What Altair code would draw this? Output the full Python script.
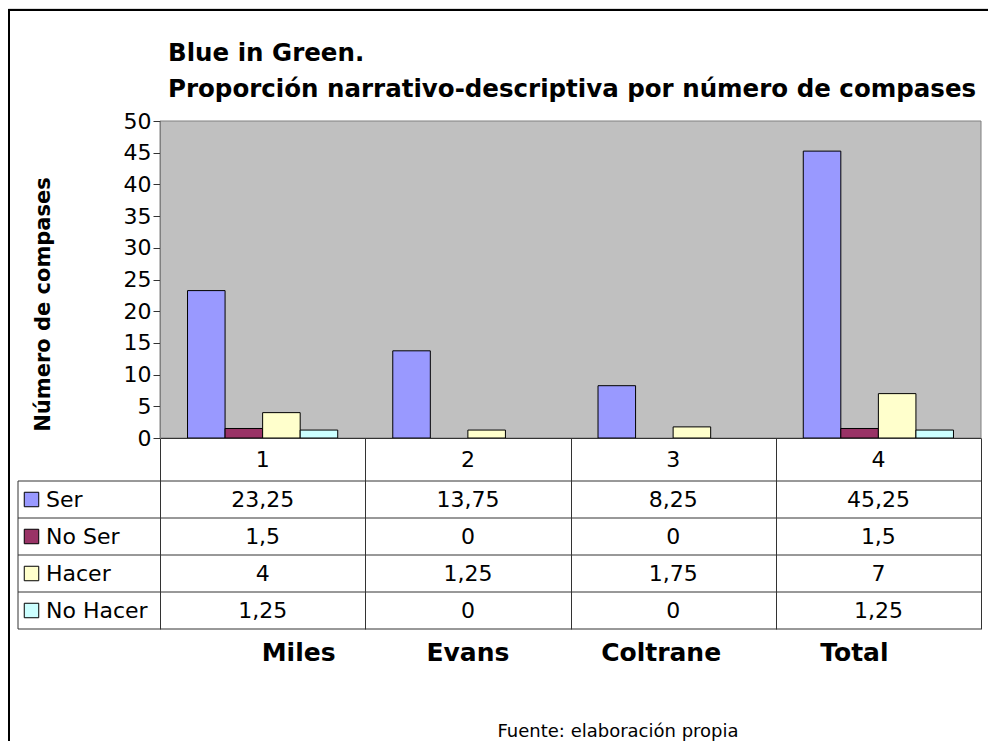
import altair as alt
import pandas as pd

# ---------------- data ----------------
columns = ["1", "2", "3", "4"]
performers = ["Miles", "Evans", "Coltrane", "Total"]
series_names = ["Ser", "No Ser", "Hacer", "No Hacer"]
ser = [23.25, 13.75, 8.25, 45.25]
no_ser = [1.5, 0, 0, 1.5]
hacer = [4, 1.25, 1.75, 7]
no_hacer = [1.25, 0, 0, 1.25]
colors = ["#9999FF", "#993366", "#FFFFCC", "#CCFFFF"]
title_lines = ["Blue in Green.", "Proporción narrativo-descriptiva por número de compases"]
y_title = "Número de compases"
source_text = "Fuente: elaboración propia"


def fmt(v):
    return f"{v:g}".replace(".", ",")


rows = []
for s, vals in zip(series_names, [ser, no_ser, hacer, no_hacer]):
    for c, p, v in zip(columns, performers, vals):
        rows.append({"col": c, "performer": p, "series": s, "value": v, "label": fmt(v)})
df = pd.DataFrame(rows)
ser_df = pd.DataFrame({"series": series_names})
one = pd.DataFrame({"a": [0]})

# ---------------- layout ----------------
W, H = 980, 733
PX0, PX1 = 152, 973
PY0, PY1 = 113, 430
ROW0, TB = 473, 621
LEFT = 10
FONT = "DejaVu Sans"
LINE = "#333333"

x_scale = alt.Scale(domain=columns, range=[PX0, PX1], paddingInner=0, paddingOuter=0)
fill_scale = alt.Scale(domain=series_names, range=colors)
row_scale = alt.Scale(domain=series_names, range=[ROW0, TB], paddingInner=0, paddingOuter=0)


def X():
    return alt.X("col:N", scale=x_scale, sort=columns)


def Yrow(**kw):
    return alt.Y("series:N", scale=row_scale, sort=series_names, axis=None, **kw)


bg = alt.Chart(one).mark_rect(fill="#C0C0C0", stroke="#808080", strokeWidth=1).encode(
    x=alt.value(PX0), x2=alt.value(PX1), y=alt.value(PY0), y2=alt.value(PY1)
)

bars = alt.Chart(df).transform_filter("datum.value > 0").mark_bar(
    stroke="black", strokeWidth=1
).encode(
    x=alt.X(
        "col:N", scale=x_scale, sort=columns,
        axis=alt.Axis(
            title=None, labels=False, domain=True, domainColor=LINE, ticks=True,
            tickBand="extent", tickSize=TB - PY1, tickColor=LINE, offset=PY1 - H,
            zindex=1, grid=False,
        ),
    ),
    xOffset=alt.XOffset(
        "series:N", sort=series_names,
        scale=alt.Scale(domain=series_names, paddingOuter=0.733, paddingInner=0),
    ),
    y=alt.Y(
        "value:Q",
        scale=alt.Scale(domain=[0, 50], range=[PY1, PY0], nice=False),
        axis=alt.Axis(
            values=list(range(0, 51, 5)), offset=-PX0, grid=False,
            domainColor="#808080", tickColor=LINE, tickSize=7,
            labelFontSize=22, labelPadding=2, labelColor="black", labelFont=FONT,
            title=y_title, titleFontSize=21, titleFontWeight="bold", titleFont=FONT,
            titleX=35 - PX0, titleY=296, titleAngle=270, titleAlign="center",
            titleBaseline="middle", titleColor="black", zindex=1,
        ),
    ),
    fill=alt.Fill("series:N", scale=fill_scale, legend=None),
)

header = alt.Chart(df).transform_filter("datum.series == 'Ser'").mark_text(
    font=FONT, fontSize=22, baseline="middle", color="black"
).encode(x=X(), y=alt.value(452), text="col:N")

values = alt.Chart(df).mark_text(
    font=FONT, fontSize=22, baseline="middle", color="black"
).encode(x=X(), y=Yrow(), text="label:N")

hlines = alt.Chart(ser_df).mark_rule(color=LINE, strokeWidth=1).encode(
    y=Yrow(bandPosition=0), x=alt.value(LEFT), x2=alt.value(PX1)
)
bottom_line = alt.Chart(ser_df).transform_filter("datum.series == 'No Hacer'").mark_rule(
    color=LINE, strokeWidth=1
).encode(y=Yrow(bandPosition=1), x=alt.value(LEFT), x2=alt.value(PX1))
left_line = alt.Chart(one).mark_rule(color=LINE, strokeWidth=1).encode(
    x=alt.value(LEFT), y=alt.value(ROW0), y2=alt.value(TB)
)

squares = alt.Chart(ser_df).mark_point(
    shape="square", filled=True, size=210, stroke="black", strokeWidth=1, opacity=1
).encode(x=alt.value(23.5), y=Yrow(), fill=alt.Fill("series:N", scale=fill_scale, legend=None))

leg_labels = alt.Chart(ser_df).mark_text(
    font=FONT, fontSize=22, align="left", baseline="middle", color="black"
).encode(x=alt.value(38), y=Yrow(), text="series:N")

label_dx = [36, 0, -12, -24]
perf_layers = []
for c, dx in zip(columns, label_dx):
    perf_layers.append(
        alt.Chart(df).transform_filter(f"datum.series == 'Ser' && datum.col == '{c}'").mark_text(
            font=FONT, fontSize=25, fontWeight="bold", baseline="alphabetic", dx=dx, color="black"
        ).encode(x=X(), y=alt.value(653), text="performer:N")
    )

titles = [
    alt.Chart(pd.DataFrame({"t": [title_lines[0]]})).mark_text(
        font=FONT, fontSize=24.5, fontWeight="bold", align="left", baseline="alphabetic", color="black"
    ).encode(x=alt.value(160), y=alt.value(53), text="t:N"),
    alt.Chart(pd.DataFrame({"t": [title_lines[1]]})).mark_text(
        font=FONT, fontSize=24.5, fontWeight="bold", align="left", baseline="alphabetic", color="black"
    ).encode(x=alt.value(160), y=alt.value(89), text="t:N"),
]

source = alt.Chart(pd.DataFrame({"t": [source_text]})).mark_text(
    font=FONT, fontSize=18, align="center", baseline="alphabetic", color="black"
).encode(x=alt.value(610), y=alt.value(729), text="t:N")

border_top = alt.Chart(one).mark_rule(color="black", strokeWidth=2).encode(
    x=alt.value(0), x2=alt.value(W), y=alt.value(2)
)
border_left = alt.Chart(one).mark_rule(color="black", strokeWidth=2).encode(
    x=alt.value(1), y=alt.value(2), y2=alt.value(H)
)

chart = alt.layer(
    bg, bars, header, values, hlines, bottom_line, left_line, squares, leg_labels,
    *perf_layers, *titles, source, border_top, border_left,
).resolve_scale(y="independent").properties(
    width=W, height=H, autosize=alt.AutoSizeParams(type="none"), padding=0
).configure_view(stroke=None).configure(font=FONT)

chart.save("out.html", embed_options={"renderer": "svg", "actions": False})
